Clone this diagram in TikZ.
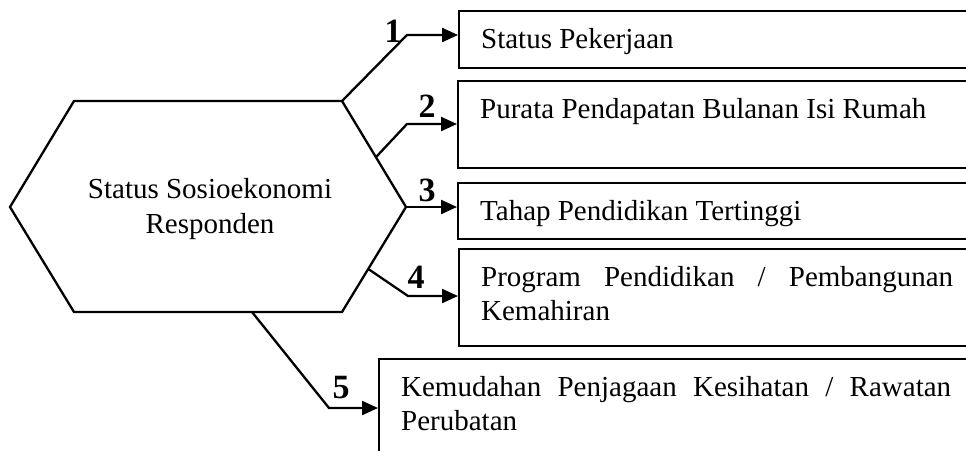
\documentclass[tikz,border=0pt]{standalone}
\usepackage{fontspec}
\setmainfont{Liberation Serif}
\usetikzlibrary{arrows.meta, calc}
\hyphenpenalty=10000
\exhyphenpenalty=10000

\tikzset{
  itembox/.style={draw, line width=2.3pt, anchor=north west, align=justify,
    inner xsep=22pt, inner ysep=0pt, text height=37pt,
    font=\fontsize{29}{34}\selectfont},
  num/.style={font=\fontsize{34}{34}\selectfont\bfseries},
  conn/.style={line width=2.3pt, -{Triangle[length=16pt,width=14pt]}},
}

\begin{document}
\begin{tikzpicture}[x=1pt, y=-1pt]

\useasboundingbox (0,0) rectangle (966,450);
\clip (0,0) rectangle (966,450);

% Hexagon
\coordinate (h1) at (74,101);
\coordinate (h2) at (342,101);
\coordinate (h3) at (406,207);
\coordinate (h4) at (342,312);
\coordinate (h5) at (74,312);
\coordinate (h6) at (10,207);
\draw[line width=2.3pt] (h1) -- (h2) -- (h3) -- (h4) -- (h5) -- (h6) -- cycle;
\node[align=center, font=\fontsize{29}{35}\selectfont] (sse) at (210,209)
  {Status Sosioekonomi\\Responden};

% Boxes
\node[itembox, text width=472pt, text depth=20pt] (b1) at (458,10) {Status Pekerjaan};
\node[itembox, text width=472pt, text depth=50pt] (b2) at (457,80) {Purata Pendapatan Bulanan Isi Rumah};
\node[itembox, text width=472pt, text depth=19pt] (b3) at (457,182) {Tahap Pendidikan Tertinggi};
\node[itembox, text width=472pt, text depth=60pt] (b4) at (458,248) {Program Pendidikan / Pembangunan Kemahiran};
\node[itembox, text width=550pt, text depth=100pt] (b5) at (378,358) {Kemudahan Penjagaan Kesihatan / Rawatan Perubatan};

% Branch points and elbows
\coordinate (s2) at ($(h2)!0.53!(h3)$);
\coordinate (s4) at ($(h3)!0.59!(h4)$);
\coordinate (s5) at (252,312);
\coordinate (e1) at (407,35);
\coordinate (e2) at (407,124);
\coordinate (e4) at (408,296);
\coordinate (e5) at (329,408);

% Connectors
\draw[conn] (h2) -- (e1) -- (e1 -| b1.west);
\draw[conn] (s2) -- (e2) -- (e2 -| b2.west);
\draw[conn] (h3) -- (h3 -| b3.west);
\draw[conn] (s4) -- (e4) -- (e4 -| b4.west);
\draw[conn] (s5) -- (e5) -- (e5 -| b5.west);

% Numbers
\node[num] (n1) at (393,31) {1};
\node[num] (n2) at (427,106) {2};
\node[num] (n3) at (427,190) {3};
\node[num] (n4) at (416,277) {4};
\node[num] (n5) at (341,388) {5};

\end{tikzpicture}
\end{document}
